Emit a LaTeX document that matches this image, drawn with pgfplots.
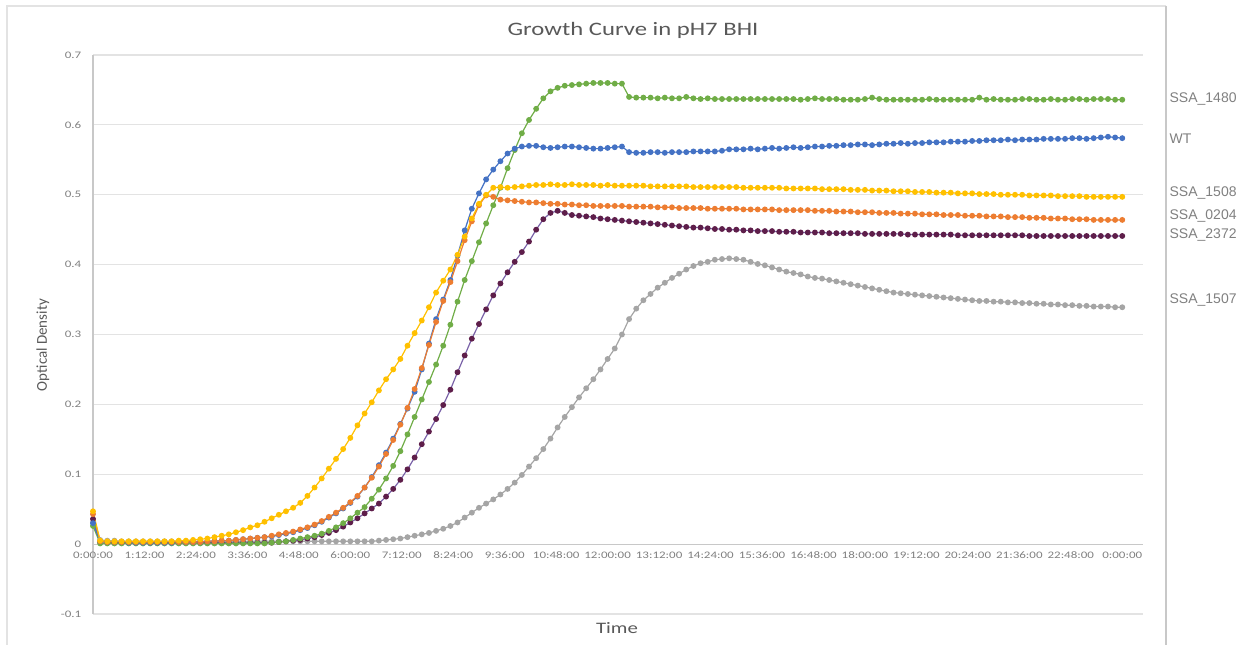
\documentclass[border=0pt]{standalone}
\usepackage{pgfplots}
\pgfplotsset{compat=1.18}
\usepackage{pgfplotstable}
\usepackage{fontspec}
\setmainfont{Carlito}[FakeStretch=1.3]
\newfontfamily\yfont{Carlito}
\newfontfamily\labelfont{Liberation Sans}

\definecolor{cWT}{HTML}{4472C4}
\definecolor{cA}{HTML}{ED7D31}
\definecolor{cB}{HTML}{FFC000}
\definecolor{cC}{HTML}{70AD47}
\definecolor{cD}{HTML}{7A62A8}
\definecolor{cDm}{HTML}{5E1E4A}
\definecolor{cE}{HTML}{A5A5A5}
\definecolor{txt}{HTML}{595959}
\definecolor{tick}{HTML}{808080}
\definecolor{gridc}{HTML}{E3E3E3}
\definecolor{axc}{HTML}{C8C8C8}

% time in minutes, optical density of each strain
\pgfplotstableread{
t wt s0204 s1508 s1480 s2372 s1507
0 .030 .043 .047 .026 .036 .031
10 .004 .004 .005 .001 .003 .006
20 .003 .003 .004 .001 .003 .005
30 .003 .003 .004 .001 .002 .005
40 .003 .003 .004 .001 .002 .004
50 .002 .003 .004 .001 .002 .004
60 .002 .003 .004 .001 .002 .004
70 .002 .003 .004 .001 .002 .004
80 .002 .003 .004 .001 .002 .004
90 .002 .003 .004 .001 .002 .004
100 .002 .003 .004 .001 .002 .004
110 .002 .003 .004 .001 .002 .004
120 .003 .003 .005 .001 .002 .004
130 .003 .003 .005 .001 .002 .004
140 .003 .003 .006 .001 .002 .004
150 .003 .003 .007 .001 .002 .004
160 .004 .004 .008 .001 .002 .004
170 .004 .004 .010 .001 .002 .004
180 .005 .005 .012 .001 .002 .004
190 .005 .005 .014 .001 .002 .004
200 .006 .006 .017 .001 .002 .004
210 .007 .007 .020 .001 .002 .004
220 .008 .008 .024 .001 .002 .004
230 .009 .009 .027 .001 .002 .004
240 .010 .010 .032 .001 .002 .004
250 .011 .012 .037 .002 .002 .004
260 .013 .014 .042 .003 .003 .004
270 .015 .016 .047 .004 .004 .004
280 .017 .018 .052 .006 .005 .004
290 .020 .021 .059 .008 .006 .004
300 .023 .024 .069 .010 .008 .004
310 .027 .028 .081 .012 .010 .004
320 .032 .033 .094 .015 .013 .004
330 .038 .039 .108 .019 .016 .004
340 .044 .045 .122 .024 .020 .004
350 .051 .052 .136 .030 .025 .004
360 .059 .060 .152 .037 .031 .004
370 .068 .069 .170 .045 .037 .004
380 .081 .081 .187 .053 .044 .004
390 .096 .095 .203 .065 .051 .004
400 .113 .111 .220 .078 .058 .005
410 .131 .129 .236 .094 .068 .006
420 .151 .149 .250 .112 .079 .007
430 .172 .171 .265 .133 .092 .008
440 .194 .195 .284 .157 .107 .010
450 .218 .222 .302 .182 .124 .012
460 .250 .252 .320 .207 .143 .014
470 .287 .285 .339 .232 .161 .016
480 .322 .318 .360 .257 .179 .019
490 .350 .348 .377 .284 .199 .022
500 .378 .375 .393 .314 .221 .026
510 .413 .405 .414 .347 .246 .031
520 .449 .435 .440 .378 .270 .038
530 .480 .462 .466 .405 .294 .045
540 .502 .485 .487 .432 .315 .052
550 .522 .499 .500 .459 .336 .058
560 .536 .497 .510 .485 .356 .064
570 .548 .493 .511 .510 .373 .071
580 .559 .492 .510 .538 .389 .079
590 .566 .491 .511 .564 .404 .088
600 .569 .490 .512 .588 .418 .099
610 .570 .489 .513 .607 .433 .111
620 .570 .489 .514 .623 .450 .123
630 .568 .488 .514 .638 .465 .136
640 .567 .487 .515 .648 .474 .151
650 .568 .487 .514 .653 .477 .167
660 .569 .486 .514 .656 .474 .182
670 .569 .486 .515 .657 .471 .196
680 .568 .485 .514 .658 .470 .210
690 .567 .485 .514 .659 .469 .223
700 .566 .484 .514 .660 .468 .236
710 .566 .484 .513 .660 .466 .250
720 .567 .484 .514 .660 .465 .265
730 .568 .484 .513 .659 .464 .280
740 .569 .484 .513 .659 .463 .300
750 .561 .483 .513 .640 .462 .322
760 .560 .483 .513 .639 .461 .337
770 .560 .483 .513 .639 .460 .349
780 .561 .483 .512 .639 .459 .358
790 .561 .482 .512 .638 .458 .367
800 .560 .482 .512 .639 .457 .374
810 .561 .482 .512 .638 .456 .381
820 .561 .481 .512 .638 .455 .387
830 .561 .481 .512 .640 .454 .393
840 .562 .481 .511 .638 .453 .398
850 .562 .481 .511 .637 .453 .402
860 .562 .480 .511 .638 .452 .404
870 .562 .480 .511 .637 .451 .407
880 .563 .480 .511 .637 .451 .408
890 .565 .480 .511 .637 .450 .409
900 .565 .480 .511 .637 .450 .408
910 .565 .479 .510 .637 .449 .407
920 .566 .479 .510 .637 .449 .404
930 .565 .479 .510 .637 .448 .401
940 .566 .479 .510 .637 .448 .399
950 .567 .479 .510 .637 .448 .396
960 .566 .478 .510 .637 .447 .393
970 .567 .478 .509 .637 .447 .390
980 .568 .478 .509 .637 .447 .388
990 .567 .478 .509 .636 .446 .386
1000 .568 .478 .509 .637 .446 .383
1010 .569 .477 .509 .638 .446 .381
1020 .569 .477 .508 .637 .446 .380
1030 .570 .477 .508 .637 .445 .378
1040 .570 .476 .508 .637 .445 .376
1050 .571 .476 .508 .636 .445 .374
1060 .571 .476 .507 .636 .445 .372
1070 .572 .475 .507 .636 .445 .370
1080 .572 .475 .507 .637 .444 .368
1090 .571 .475 .506 .639 .444 .366
1100 .572 .474 .506 .637 .444 .364
1110 .573 .474 .506 .636 .444 .362
1120 .573 .474 .505 .636 .444 .360
1130 .574 .473 .505 .636 .444 .359
1140 .573 .473 .505 .636 .443 .358
1150 .574 .473 .504 .636 .443 .357
1160 .574 .472 .504 .636 .443 .356
1170 .575 .472 .504 .637 .443 .355
1180 .575 .472 .503 .636 .443 .354
1190 .575 .471 .503 .636 .443 .353
1200 .576 .471 .503 .636 .443 .352
1210 .576 .471 .502 .636 .442 .351
1220 .576 .470 .502 .636 .442 .350
1230 .577 .470 .502 .636 .442 .349
1240 .577 .470 .501 .639 .442 .348
1250 .578 .469 .501 .636 .442 .348
1260 .578 .469 .501 .637 .442 .347
1270 .578 .469 .500 .636 .442 .347
1280 .579 .468 .500 .636 .442 .346
1290 .578 .468 .500 .636 .442 .346
1300 .579 .468 .500 .637 .442 .345
1310 .579 .467 .499 .637 .441 .345
1320 .579 .467 .499 .636 .441 .344
1330 .580 .467 .499 .636 .441 .344
1340 .580 .466 .499 .637 .441 .343
1350 .580 .466 .498 .636 .441 .343
1360 .580 .466 .498 .636 .441 .342
1370 .581 .465 .498 .637 .441 .342
1380 .581 .465 .498 .637 .441 .341
1390 .580 .465 .497 .636 .441 .341
1400 .581 .464 .497 .637 .441 .340
1410 .582 .464 .497 .637 .441 .340
1420 .583 .464 .497 .637 .441 .340
1430 .582 .464 .497 .636 .441 .339
1440 .581 .464 .497 .636 .441 .339
}\growth

\begin{document}
\begin{tikzpicture}[x=1pt,y=1pt]
\path (0,0) rectangle (1244,649);
% chart frame
\draw[color=gridc, line width=1.2pt] (7,4) -- (7,643) -- (1166,643);
\draw[color=axc, line width=1.4pt] (1166,643) -- (1166,4);

\begin{axis}[
  at={(93pt,35pt)}, anchor=south west,
  scale only axis, width=1050pt, height=559pt,
  xmin=0, xmax=1469, ymin=-0.1, ymax=0.7,
  axis x line=middle, axis y line=left,
  axis line style={-, draw=axc, line width=1.2pt},
  hide obscured x ticks=false, hide obscured y ticks=false,
  xtick={0,72,144,216,288,360,432,504,576,648,720,792,864,936,1008,1080,1152,1224,1296,1368,1440},
  xticklabels={0:00:00,1:12:00,2:24:00,3:36:00,4:48:00,6:00:00,7:12:00,8:24:00,9:36:00,10:48:00,12:00:00,13:12:00,14:24:00,15:36:00,16:48:00,18:00:00,19:12:00,20:24:00,21:36:00,22:48:00,0:00:00},
  ytick={-0.1,0,0.1,0.2,0.3,0.4,0.5,0.6,0.7},
  yticklabels={-0.1,0,0.1,0.2,0.3,0.4,0.5,0.6,0.7},
  ymajorgrids, grid style={draw=gridc, line width=1.2pt},
  tick style={draw=none},
  ticklabel style={font=\fontsize{10}{12}\selectfont, text=tick},
  xticklabel style={yshift=-2pt},
  yticklabel style={xshift=-6pt},
  clip=false,
  every axis plot/.append style={line width=1.2pt, mark=*, mark size=2.3pt},
]
\addplot[color=cE, mark options={fill=cE, draw=cE}] table[x=t, y=s1507] {\growth};
\addplot[color=cD, mark options={fill=cDm, draw=cDm}] table[x=t, y=s2372] {\growth};
\addplot[color=cC, mark options={fill=cC, draw=cC}] table[x=t, y=s1480] {\growth};
\addplot[color=cWT, mark options={fill=cWT, draw=cWT}] table[x=t, y=wt] {\growth};
\addplot[color=cA, mark options={fill=cA, draw=cA}] table[x=t, y=s0204] {\growth};
\addplot[color=cB, mark options={fill=cB, draw=cB}] table[x=t, y=s1508] {\growth};

% series names at the right edge
\begin{scope}[every node/.style={anchor=west, text=tick, font=\labelfont\fontsize{14}{16}\selectfont, inner sep=0pt}]
\node at (axis cs:1506,0.637) {SSA\_1480};
\node at (axis cs:1506,0.580) {WT};
\node at (axis cs:1506,0.503) {SSA\_1508};
\node at (axis cs:1506,0.470) {SSA\_0204};
\node at (axis cs:1506,0.443) {SSA\_2372};
\node at (axis cs:1506,0.349) {SSA\_1507};
\end{scope}
\end{axis}

\node[text=txt, font=\fontsize{19}{22}\selectfont] at (633,619) {Growth Curve in pH7 BHI};
\node[text=txt, font=\fontsize{16}{18}\selectfont] at (617,21) {Time};
\node[text=txt, rotate=90, font=\yfont\fontsize{15}{17}\selectfont] at (43,304) {Optical Density};
\end{tikzpicture}
\end{document}
